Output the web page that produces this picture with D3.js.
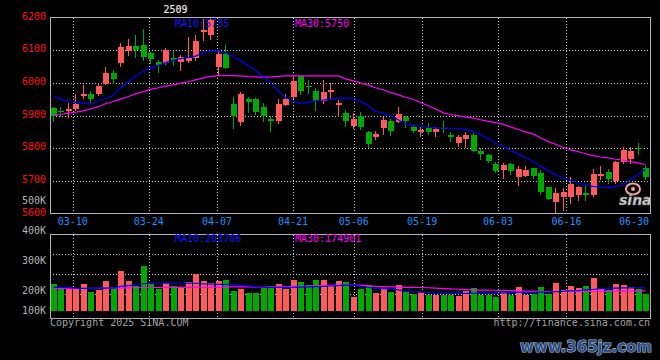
<!DOCTYPE html>
<html><head><meta charset="utf-8">
<script src="https://cdn.jsdelivr.net/npm/d3@7"></script>
<style>html,body{margin:0;padding:0;background:#000;}svg{display:block}</style>
</head><body>
<svg id="c" width="660" height="360"></svg>
<script>
const dates = ["03-05","03-06","03-07","03-10","03-11","03-12","03-13","03-14","03-17","03-18","03-19","03-20","03-21",
"03-24","03-25","03-26","03-27","03-28","03-31","04-01","04-02","04-03","04-07","04-08","04-09","04-10","04-11",
"04-14","04-15","04-16","04-17","04-18","04-21","04-22","04-23","04-24","04-25","04-28","04-29","04-30",
"05-06","05-07","05-08","05-09","05-12","05-13","05-14","05-15","05-16","05-19","05-20","05-21","05-22","05-23",
"05-26","05-27","05-28","05-29","05-30","06-03","06-04","06-05","06-06","06-09","06-10","06-11","06-12","06-13",
"06-16","06-17","06-18","06-19","06-20","06-23","06-24","06-25","06-26","06-27","06-30","07-01"];
const open  = [5922,5915,5914,5920,5960,5966,5966,5997,6030,6060,6096,6113,6116,6090,6065,6062,6075,6063,6067,6075,6155,6145,6047,6088,5936,5880,5951,5951,5927,5889,5882,5933,5958,6020,5989,5975,5945,5971,5933,5907,5869,5899,5851,5833,5863,5884,5880,5894,5866,5851,5863,5849,5863,5841,5815,5829,5841,5790,5780,5752,5732,5752,5713,5716,5739,5724,5680,5635,5649,5649,5657,5664,5657,5716,5726,5698,5759,5767,5802,5739];
const high  = [5927,5927,5937,5966,5994,5975,6000,6048,6040,6122,6135,6147,6165,6095,6070,6106,6096,6086,6141,6147,6195,6200,6100,6115,5958,5971,5958,5955,5938,5897,5950,5966,6025,6025,6009,5985,6010,6000,5946,5917,5907,5911,5852,5853,5894,5890,5927,5897,5871,5866,5877,5866,5882,5848,5841,5848,5846,5802,5781,5759,5756,5754,5744,5746,5740,5734,5682,5678,5678,5713,5683,5683,5737,5744,5737,5760,5803,5805,5816,5747];
const low   = [5882,5900,5895,5917,5953,5941,5963,5996,6000,6053,6086,6078,6070,6062,6032,6058,6055,6040,6064,6070,6132,6135,6025,6044,5863,5872,5912,5905,5883,5853,5876,5931,5953,5965,5968,5917,5938,5953,5897,5869,5863,5859,5804,5828,5843,5839,5879,5865,5849,5836,5843,5836,5851,5822,5807,5805,5790,5767,5759,5727,5710,5721,5686,5715,5708,5660,5643,5606,5611,5632,5642,5642,5655,5706,5693,5693,5754,5754,5782,5706];
const close = [5899,5912,5920,5934,5966,5951,5991,6030,6012,6111,6113,6101,6080,6072,6055,6100,6070,6080,6076,6129,6162,6193,6088,6045,5900,5966,5941,5912,5897,5884,5935,5951,6006,5976,5986,5943,5971,5978,5938,5884,5890,5866,5812,5843,5887,5853,5905,5884,5853,5856,5849,5859,5858,5834,5834,5841,5792,5782,5762,5731,5749,5729,5737,5734,5715,5667,5645,5664,5667,5691,5680,5657,5721,5721,5706,5759,5793,5792,5798,5713];
const volume = [236000,198000,212000,196000,236000,166000,183000,262000,188000,349000,262000,214000,393000,236000,192000,242000,218000,205000,256000,319000,262000,244000,262000,271000,175000,192000,160000,160000,205000,218000,236000,189000,271000,253000,223000,271000,271000,218000,264000,250000,125000,192000,227000,160000,203000,168000,227000,168000,151000,163000,140000,140000,140000,140000,134000,175000,198000,140000,140000,125000,163000,140000,207000,140000,146000,207000,146000,247000,183000,218000,203000,218000,285000,198000,183000,236000,227000,212000,192000,146000];
const ma10 = [5958,5950,5942,5940,5938,5934,5945,5952,5962,5985,6004,6020,6035,6046,6054,6062,6070,6074,6078,6082,6092,6097,6098,6092,6080,6068,6053,6038,6018,6000,5975,5955,5945,5937,5940,5946,5947,5950,5953,5953,5952,5944,5930,5913,5906,5899,5886,5875,5870,5867,5864,5862,5861,5861,5860,5857,5852,5842,5828,5815,5805,5793,5781,5770,5759,5745,5730,5719,5708,5701,5694,5687,5683,5681,5679,5682,5688,5703,5720,5735];
const ma30 = [5900,5903,5907,5910,5914,5920,5927,5936,5943,5950,5958,5966,5973,5980,5985,5990,5994,5999,6004,6009,6015,6020,6022,6022,6022,6021,6019,6018,6017,6018,6020,6021,6021,6021,6021,6021,6021,6021,6021,6012,6006,6000,5993,5985,5978,5970,5963,5956,5949,5940,5930,5920,5908,5903,5899,5896,5892,5887,5882,5878,5873,5865,5857,5850,5843,5832,5820,5812,5802,5795,5789,5783,5777,5773,5770,5766,5763,5759,5754,5750];
const vma10 = [207000,206000,204000,200000,198000,198000,199000,200000,202000,215000,222000,228000,238000,242000,242000,243000,242000,242000,243000,242000,236000,234000,233000,233000,232000,225000,220000,215000,210000,207000,207000,207000,207000,208000,210000,212000,214000,218000,222000,226000,226000,215000,205000,198000,196000,195000,185000,175000,168000,165000,160000,156000,155000,154000,154000,154000,154000,154000,154000,155000,158000,160000,162000,163000,163000,164000,164000,168000,172000,175000,178000,185000,190000,196000,198000,200000,201000,202000,203000,204000];
const vma30 = [198000,197000,196000,196000,196000,197000,198000,199000,200000,201000,202000,203000,204000,205000,205000,206000,206000,207000,207000,208000,208000,209000,209000,210000,210000,210000,210000,210000,210000,210000,210000,212000,214000,216000,218000,220000,222000,224000,226000,227000,227000,225000,220000,215000,212000,210000,208000,207000,206000,205000,203000,200000,196000,193000,190000,187000,185000,183000,182000,181000,180000,178000,176000,174000,172000,171000,170000,170000,170000,170000,170000,171000,172000,172000,173000,173000,174000,174000,175000,175000];
const priceTicks = [6200,6100,6000,5900,5800,5700,5600];
const volTickLabels = ["500K","400K","300K","200K","100K"];
const dateTicks = ["03-10","03-24","04-07","04-21","05-06","05-19","06-03","06-16","06-30"];
const maPriceLabels = ["MA10:5735","MA30:5750"];
const maVolLabels = ["MA10:203706","MA30:174901"];
const titleText = "2509";

const L = 50, R = 650, pTop = 17.5, pBot = 213.5, vTop = 234.5, vBot = 318.5, vBase = 311;
const RED = "#ff5a5a", GREEN = "#00a800", GRID = "#c8c8c8", BORDER = "#b4b4b4";
const FONT = "'DejaVu Sans Mono', monospace";

const svg = d3.select("#c");
svg.append("rect").attr("width",660).attr("height",360).attr("fill","#000");

const xb = d3.scaleBand().domain(dates).range([L, R]).paddingInner(0.2).paddingOuter(0.1);
const xp = d3.scalePoint().domain(dates).range([L, R]);
const y = d3.scaleLinear().domain([5600, 6200]).range([pBot, pTop]);
const vy = d3.scaleLinear().domain([0, 672000]).range([vBase, vBase - 77]);
const cx = i => Math.round(xb(dates[i])) + 2.5;

// grids
const g = svg.append("g").attr("shape-rendering","crispEdges");
priceTicks.slice(1, -1).forEach(p => {
  g.append("line").attr("x1",L).attr("x2",R).attr("y1",Math.round(y(p))+0.5).attr("y2",Math.round(y(p))+0.5)
   .attr("stroke",GRID).attr("stroke-dasharray","1,2");
});
[1,2,3].forEach(k => {
  const yy = vTop + 20*k;
  g.append("line").attr("x1",L).attr("x2",R).attr("y1",yy).attr("y2",yy).attr("stroke",GRID).attr("stroke-dasharray","1,2");
});
dateTicks.slice(0, -1).forEach(d => {
  const xx = Math.round(xp(d)) + 0.5;
  g.append("line").attr("x1",xx).attr("x2",xx).attr("y1",pTop).attr("y2",pBot).attr("stroke",GRID).attr("stroke-dasharray","1,2");
  g.append("line").attr("x1",xx).attr("x2",xx).attr("y1",vTop).attr("y2",vBot).attr("stroke",GRID).attr("stroke-dasharray","1,2");
});

// candles
const cg = svg.append("g").attr("shape-rendering","crispEdges");
dates.forEach((d, i) => {
  const up = close[i] >= open[i];
  const col = up ? RED : GREEN;
  const x0 = Math.round(xb(d));
  cg.append("line").attr("x1",x0+2.5).attr("x2",x0+2.5).attr("y1",Math.round(y(high[i]))).attr("y2",Math.round(y(low[i]))+1).attr("stroke",col);
  const t = Math.round(y(Math.max(open[i], close[i])));
  const b = Math.round(y(Math.min(open[i], close[i])));
  cg.append("rect").attr("x",x0).attr("y",t).attr("width",Math.round(xb.bandwidth())).attr("height",Math.max(1,b-t)).attr("fill",col);
  // volume
  const vt = Math.round(vy(volume[i]));
  cg.append("rect").attr("x",x0).attr("y",vt).attr("width",Math.round(xb.bandwidth())).attr("height",vBase - vt).attr("fill",col);
});

// MA lines
const lineP = arr => d3.line().x((v,i) => cx(i)).y(v => y(v))(arr);
const lineV = arr => d3.line().x((v,i) => cx(i)).y(v => vy(v))(arr);
svg.append("path").attr("d",lineP(ma30)).attr("fill","none").attr("stroke","#ff00ff").attr("stroke-width",1.2);
svg.append("path").attr("d",lineP(ma10)).attr("fill","none").attr("stroke","#0000ff").attr("stroke-width",1.2);
svg.append("path").attr("d",lineV(vma30)).attr("fill","none").attr("stroke","#ff00ff").attr("stroke-width",1.2);
svg.append("path").attr("d",lineV(vma10)).attr("fill","none").attr("stroke","#0000ff").attr("stroke-width",1.2);

// borders
const bg = svg.append("g").attr("shape-rendering","crispEdges").attr("fill","none").attr("stroke",BORDER);
bg.append("rect").attr("x",L+0.5).attr("y",pTop).attr("width",R-L).attr("height",pBot-pTop);
bg.append("rect").attr("x",L+0.5).attr("y",vTop).attr("width",R-L).attr("height",vBot-vTop);

// text
const txt = (x, yy, s, fill, anchor) => svg.append("text").attr("x",x).attr("y",yy).text(s)
  .attr("fill",fill).attr("font-family",FONT).attr("font-size","10px").attr("text-anchor",anchor||"start");

priceTicks.forEach(p => txt(46, y(p) + 2, String(p), "#ff1010", "end"));
volTickLabels.forEach((s, i) => txt(46, Math.min(204 + 30*i, 314), s, "#b4b4b4", "end"));
dateTicks.forEach((d, i) => {
  const last = i === dateTicks.length - 1;
  txt(last ? R - 1 : xp(d), 225, d, "#1e90ff", last ? "end" : "middle");
});
txt(175, 27, maPriceLabels[0], "#1414ff");
txt(295, 27, maPriceLabels[1], "#ff00ff");
txt(175, 242, maVolLabels[0], "#1414ff");
txt(295, 242, maVolLabels[1], "#ff00ff");
txt(L, 326, "Copyright 2025 SINA.COM", "#a0a0a0");
txt(R, 326, "http://finance.sina.com.cn", "#a0a0a0", "end");
txt(175.5, 13, titleText, "#e0e0e0", "middle").attr("stroke","#606060").attr("stroke-width",0.6).attr("paint-order","stroke");

// sina logo watermark
svg.append("ellipse").attr("cx",633).attr("cy",189).attr("rx",7).attr("ry",5.5).attr("fill","none").attr("stroke","#f4a0a0").attr("stroke-width",2);
svg.append("circle").attr("cx",633).attr("cy",189).attr("r",2).attr("fill","#f4a0a0");
svg.append("text").attr("x",619).attr("y",205).text("sina").attr("fill","#d0d0d0").attr("stroke","#808080").attr("stroke-width",0.5)
  .attr("font-family","'DejaVu Sans', sans-serif").attr("font-size","14px").attr("font-weight","bold").attr("font-style","italic");

// site watermark
svg.append("text").attr("x",652).attr("y",352).attr("text-anchor","end").text("www.365jz.com")
  .attr("fill","#2e4f82").attr("stroke","#a9bcd9").attr("stroke-width",1.2).attr("paint-order","stroke")
  .attr("font-family","'DejaVu Sans', sans-serif").attr("font-size","15px").attr("font-weight","bold");
</script>
</body></html>
